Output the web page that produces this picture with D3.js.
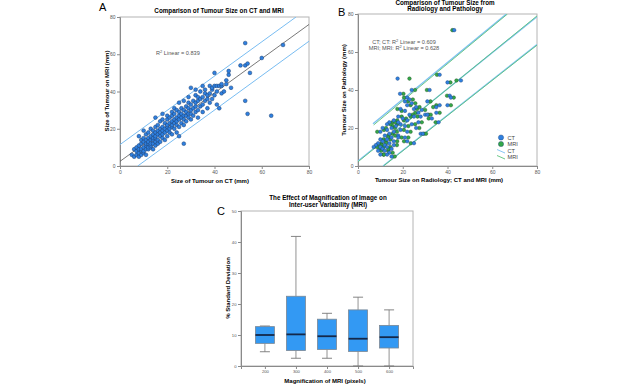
<!DOCTYPE html>
<html>
<head>
<meta charset="utf-8">
<script src="https://cdn.jsdelivr.net/npm/d3@7"></script>
<style>
  html, body { margin: 0; padding: 0; background: #fff; }
  svg { display: block; font-family: "Liberation Sans", Arial, sans-serif; }
</style>
</head>
<body>
<svg id="chart" width="640" height="384"></svg>
<script>
// ---- panel A : CT vs MRI size (mm) ----
const ctMriPoints = [
  [5,6],[6,5],[6,9],[7,6],[7,8],[7,10],[8,5],[8,7],[8,9],[8,11],[8,16],[9,6],[9,8],[9,9],[9,12],[9,14],
  [10,7],[10,8],[10,10],[10,13],[10,15],[10,19],[11,6],[11,9],[11,11],[11,12],[11,14],[11,17],
  [12,9],[12,10],[12,12],[12,15],[12,18],[12,13],[13,10],[13,11],[13,14],[13,16],[13,12],[13,20],
  [14,9],[14,12],[14,14],[14,15],[14,17],[14,19],[15,11],[15,13],[15,15],[15,16],[15,18],[15,21],[15,26],
  [16,12],[16,14],[16,17],[16,19],[16,22],[17,13],[17,16],[17,18],[17,20],[17,24],
  [18,15],[18,17],[18,19],[18,21],[18,25],[18,28],[19,14],[19,18],[19,20],[19,23],
  [20,16],[20,19],[20,21],[20,22],[20,25],[20,27],[21,18],[21,20],[21,23],[21,26],
  [22,17],[22,21],[22,22],[22,24],[22,27],[22,29],[23,20],[23,23],[23,25],[23,28],[23,31],
  [24,18],[24,22],[24,24],[24,26],[24,30],[25,16],[25,21],[25,25],[25,27],[25,29],[25,34],
  [26,23],[26,26],[26,28],[26,31],[27,12],[27,22],[27,25],[27,27],[27,30],[27,35],
  [28,24],[28,27],[28,29],[28,32],[29,26],[29,28],[29,31],[29,34],[29,37],
  [30,25],[30,28],[30,30],[30,33],[30,42],[31,27],[31,31],[31,35],[32,29],[32,32],[32,34],[32,38],[32,41],
  [33,26],[33,30],[33,35],[33,37],[34,32],[34,36],[34,40],[35,29],[35,33],[35,37],[35,43],
  [36,35],[36,39],[36,41],[37,31],[37,36],[37,38],[38,34],[38,39],[38,43],[39,36],[39,41],[39,42],
  [40,38],[40,43],[40,50],[41,33],[41,40],[41,43],[42,31],[42,43],[43,39],[43,43],[43,44],
  [44,40],[45,44],[45,46],[46,49],[46,51],[47,42],[51,54],[53,54],[54,55],[55,50],[53,66],[60,58],[69,65],
  [53,35],[54,28],[64,27]
];
const fitA = [[0,2.5],[80,76]];
const upperA = [[0,11.5],[74.5,80]];
const lowerA = [[7.5,0],[80,67]];

// ---- panel B : radiology vs pathology (mm) ----
// [pathology, CT, MRI]
const pathPairs = [
  [71.5,43,42.2],[46,17.7,23],[48,36.5,35.3],[44,40,41.3],[45,46,44],[38,18.8,20.3],[40,32,30.8],[40,24,25.5],
  [37,41,39.8],[36,41.5,42.8],[32,40,41.5],[32,36.5,35],[31,35,33.6],[28,35,36.5],[23,36,34.7],[29.5,28.5,30],
  [36,22,20.6],[35,23,24.5],[34,21,22.4],[33,24,25.6],[32,22,23.5],[30,25,26.4],[30,19,17.6],[29,21,19.5],
  [28,27,25.6],[27,23,24.4],[27,30,31.5],[26,18,19.5],[26,25,23.5],[25,20,21.5],[25,33,31.6],[24,16,17.5],
  [24,22,20.5],[23,27,28.5],[23,14,15.4],[22,19,17.5],[22,24,25.5],[21,17,15.5],[21,21,22.5],[20,15,16.5],
  [20,26,27.4],[19,13,11.6],[19,19,20.5],[18,16,17.4],[18,22,23.5],[17,14,15.5],[17,28,29.5],[16,12,13.5],
  [16,18,16.6],[15,15,13.5],[15,21,22.5],[14,10,11.4],[14,13,14.5],[13,16,17.5],[13,11,12.4],[12,9,10.5],
  [12,14,12.6],[12,25,23.6],[11,12,10.6],[11,8,9.5],[10,10,11.5],[10,13,14.4],[10,7,8.4],[9,11,9.6],
  [8,12,13.5],[8,9,10.4],[7,14,15.5],[6,10,11.4],[6,13,11.6],[5,15,16.4],[17,29,30.4],[13,22,20.6],
  [27,31,32.5],[34,31,32.4],[23,18,16.6],[20,11,12.5],[26,28,26.6],[31,26,27.5],[22,13,14.5],[18,10,8.6],
  [15,18,19.5],[11,16,17.4],[9,15,13.6]
];
const ctFit = [[0,2.6],[80,78.6]];
const mriFit = [[0,2.2],[80,79]];
const ctUpper = [[6.7,22.3],[66.3,80]];
const mriUpper = [[7,21.6],[66.8,80]];
const ctLower = [[11.2,0],[80,64]];
const mriLower = [[11.4,0],[80,63.6]];

// ---- panel C : box plot ----
const magCats = ['200','300','400','500','600'];
const whiskerLow = [4.6,2.5,2.5,0,0];
const q1 = [7.3,5.0,5.3,4.7,5.8];
const median = [10.0,10.2,9.6,8.8,9.3];
const q3 = [12.7,22.5,15.1,18.1,13.1];
const whiskerHigh = [12.9,41.8,17.0,22.2,18.1];

const axisTicks = [0,20,40,60,80];
const sdTicks = [0,10,20,30,40,50];

const svg = d3.select('#chart');
svg.append('rect').attr('width',640).attr('height',384).attr('fill','#fff');
const defs = svg.append('defs');

const CT_COL = '#2f80e0', MRI_COL = '#33a847';
const CT_LINE = '#7cc0f2', MRI_LINE = '#5cc27a';

//坐標軸樣式
function styleAxis(g, fs) {
  g.select('.domain').attr('stroke','#8a8a8a');
  g.selectAll('.tick line').attr('stroke','#8a8a8a');
  g.selectAll('.tick text').attr('fill','#555').style('font-size', fs + 'px').style('font-family','"Liberation Sans", Arial, sans-serif');
}

function frame(x0, y0, x1, y1, id) {
  svg.append('rect').attr('x',x0).attr('y',y0).attr('width',x1-x0).attr('height',y1-y0)
    .attr('fill','none').attr('stroke','#b4b4b4');
  defs.append('clipPath').attr('id',id).append('rect')
    .attr('x',x0).attr('y',y0).attr('width',x1-x0).attr('height',y1-y0);
}

function label(x, y, txt, fs, opts = {}) {
  const t = svg.append('text').attr('x',x).attr('y',y).text(txt)
    .style('font-size', fs + 'px')
    .attr('text-anchor', opts.anchor || 'middle')
    .attr('fill', opts.fill || '#000')
    .style('font-weight', opts.bold ? 'bold' : 'normal');
  if (opts.rotate) t.attr('transform', `rotate(-90,${x},${y})`);
  return t;
}

// ================= A =================
const xA = d3.scaleLinear([0,80],[120,309]);
const yA = d3.scaleLinear([0,80],[166,17]);
frame(120,17,309,166,'clipA');

svg.append('g').attr('transform','translate(0,166)')
  .call(d3.axisBottom(xA).tickValues(axisTicks).tickSize(3).tickPadding(1.5))
  .call(g => styleAxis(g, 5));
svg.append('g').attr('transform','translate(120,0)')
  .call(d3.axisLeft(yA).tickValues(axisTicks).tickSize(3).tickPadding(1.5))
  .call(g => styleAxis(g, 5));

const lineA = d3.line().x(d => xA(d[0])).y(d => yA(d[1]));
const gA = svg.append('g').attr('clip-path','url(#clipA)');
gA.append('path').attr('d', lineA(upperA)).attr('stroke','#79bdf2').attr('stroke-width',1).attr('fill','none');
gA.append('path').attr('d', lineA(lowerA)).attr('stroke','#79bdf2').attr('stroke-width',1).attr('fill','none');
gA.append('path').attr('d', lineA(fitA)).attr('stroke','#555').attr('stroke-width',0.8).attr('fill','none');
gA.selectAll('circle').data(ctMriPoints).enter().append('circle')
  .attr('cx', d => xA(d[0])).attr('cy', d => yA(d[1])).attr('r',1.9)
  .attr('fill', CT_COL).attr('stroke','#1d3f6e').attr('stroke-width',0.5);

label(219,13,'Comparison of Tumour Size on CT and MRI',6.3,{bold:true});
label(210,182.5,'Size of Tumour on CT (mm)',6,{bold:true});
label(109,91,'Size of Tumour on MRI (mm)',6,{bold:true,rotate:true});
const rA = label(156,54.5,'',5.6,{anchor:'start',fill:'#555'});
rA.append('tspan').text('R');
rA.append('tspan').text('2').attr('dy',-2).style('font-size','4px');
rA.append('tspan').text(' Linear = 0.839').attr('dy',2);
label(99,11,'A',11,{anchor:'start'});

// ================= B =================
const xB = d3.scaleLinear([0,80],[358,537]);
const yB = d3.scaleLinear([0,80],[166,14]);
frame(358,14,537,166,'clipB');

svg.append('g').attr('transform','translate(0,166)')
  .call(d3.axisBottom(xB).tickValues(axisTicks).tickSize(3).tickPadding(1.5))
  .call(g => styleAxis(g, 5));
svg.append('g').attr('transform','translate(358,0)')
  .call(d3.axisLeft(yB).tickValues(axisTicks).tickSize(3).tickPadding(1.5))
  .call(g => styleAxis(g, 5));

const lineB = d3.line().x(d => xB(d[0])).y(d => yB(d[1]));
const gB = svg.append('g').attr('clip-path','url(#clipB)');
[ctUpper, ctFit, ctLower].forEach(l =>
  gB.append('path').attr('d', lineB(l)).attr('stroke',CT_LINE).attr('stroke-width',1.3).attr('fill','none'));
[mriUpper, mriFit, mriLower].forEach(l =>
  gB.append('path').attr('d', lineB(l)).attr('stroke',MRI_LINE).attr('stroke-width',0.9).attr('fill','none'));

gB.selectAll('circle.mri').data(pathPairs).enter().append('circle').attr('class','mri')
  .attr('cx', d => xB(d[2])).attr('cy', d => yB(d[0])).attr('r',1.8)
  .attr('fill', MRI_COL).attr('stroke','#1d4a22').attr('stroke-width',0.4);
gB.selectAll('circle.ct').data(pathPairs).enter().append('circle').attr('class','ct')
  .attr('cx', d => xB(d[1])).attr('cy', d => yB(d[0])).attr('r',1.8)
  .attr('fill', CT_COL).attr('stroke','#1d3f6e').attr('stroke-width',0.4);

label(445,4.5,'Comparison of Tumour Size from',6.3,{bold:true});
label(445,10.5,'Radiology and Pathology',6.3,{bold:true});
label(439,182,'Tumour Size on Radiology; CT and MRI (mm)',6,{bold:true});
label(345.5,90,'Tumour Size on Pathology (mm)',6,{bold:true,rotate:true});
[['CT; CT: R','0.609',43.5],['MRI; MRI: R','0.628',50]].forEach(r => {
  const t = label(404,r[2],'',5.6,{fill:'#555'});
  t.append('tspan').text(r[0]);
  t.append('tspan').text('2').attr('dy',-2).style('font-size','4px');
  t.append('tspan').text(' Linear = ' + r[1]).attr('dy',2);
});
label(338,16,'B',11,{anchor:'start'});

// legend
const legendB = [['CT',CT_COL,CT_LINE],['MRI',MRI_COL,MRI_LINE]];
legendB.forEach((d,i) => {
  svg.append('circle').attr('cx',501).attr('cy',137.5 + i*6.5).attr('r',2.6)
    .attr('fill',d[1]).attr('stroke','#1d3f6e').attr('stroke-width',0.4);
  label(507.5,139.5 + i*6.5,d[0],5.6,{anchor:'start',fill:'#444'});
  svg.append('line').attr('x1',497).attr('y1',149.5 + i*6).attr('x2',505).attr('y2',153 + i*6)
    .attr('stroke',d[2]).attr('stroke-width',0.9);
  label(507.5,153 + i*6,d[0],5.6,{anchor:'start',fill:'#444'});
});

// ================= C =================
const xC = d3.scalePoint(magCats,[241,413]).padding(0.77);
const yC = d3.scaleLinear([0,50],[366,211]);
frame(241,211,413,366,'clipC');

svg.append('g').attr('transform','translate(0,366)')
  .call(d3.axisBottom(xC).tickSize(3).tickPadding(1.5))
  .call(g => styleAxis(g, 4.2));
svg.append('g').attr('transform','translate(241,0)')
  .call(d3.axisLeft(yC).tickValues(sdTicks).tickSize(3).tickPadding(1.5))
  .call(g => styleAxis(g, 4.2));

const boxW = 19, capW = 10;
const boxes = magCats.map((c,i) => ({c, lo:whiskerLow[i], q1:q1[i], med:median[i], q3:q3[i], hi:whiskerHigh[i]}));
const gC = svg.append('g');
boxes.forEach(b => {
  const cx = xC(b.c);
  gC.append('line').attr('x1',cx).attr('x2',cx).attr('y1',yC(b.hi)).attr('y2',yC(b.q3)).attr('stroke','#777').attr('stroke-width',0.8);
  gC.append('line').attr('x1',cx).attr('x2',cx).attr('y1',yC(b.q1)).attr('y2',yC(b.lo)).attr('stroke','#777').attr('stroke-width',0.8);
  gC.append('line').attr('x1',cx-capW/2).attr('x2',cx+capW/2).attr('y1',yC(b.hi)).attr('y2',yC(b.hi)).attr('stroke','#777').attr('stroke-width',0.9);
  gC.append('line').attr('x1',cx-capW/2).attr('x2',cx+capW/2).attr('y1',yC(b.lo)).attr('y2',yC(b.lo)).attr('stroke','#777').attr('stroke-width',0.9);
  gC.append('rect').attr('x',cx-boxW/2).attr('width',boxW).attr('y',yC(b.q3)).attr('height',yC(b.q1)-yC(b.q3))
    .attr('fill','#3399f3').attr('stroke','#7a8794').attr('stroke-width',0.8);
  gC.append('line').attr('x1',cx-boxW/2).attr('x2',cx+boxW/2).attr('y1',yC(b.med)).attr('y2',yC(b.med))
    .attr('stroke','#14284a').attr('stroke-width',1.8);
});

label(328,200,'The Effect of Magnification of Image on',6.3,{bold:true});
label(328,206.5,'Inter-user Variability (MRI)',6.3,{bold:true});
label(325,383,'Magnification of MRI (pixels)',6,{bold:true});
label(230,288,'% Standard Deviation',6,{bold:true,rotate:true});
label(217,214.5,'C',11,{anchor:'start'});
</script>
</body>
</html>
